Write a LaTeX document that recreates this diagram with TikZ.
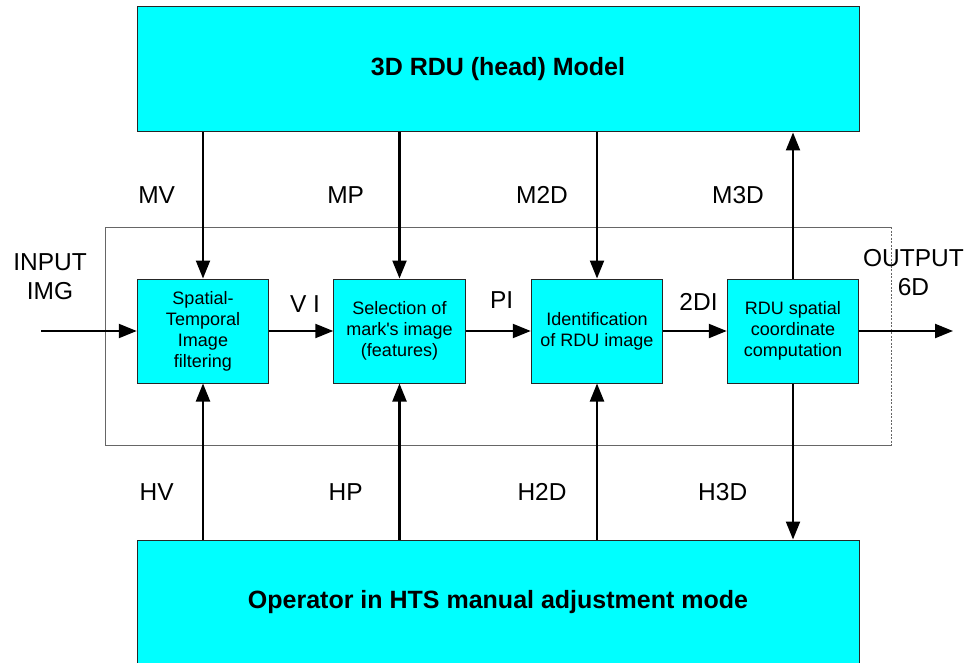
\documentclass[tikz,border=0pt]{standalone}
\usepackage{fontspec}
\setmainfont{Liberation Sans}[Ligatures=TeXOff]
\usetikzlibrary{arrows.meta}
\definecolor{boxcyan}{RGB}{0,255,255}
\begin{document}
\begin{tikzpicture}[x=1pt,y=-1pt,
  bigbox/.style={draw=black!85, line width=1pt, fill=boxcyan, minimum width=722pt, inner sep=0pt, font=\fontsize{25}{30}\selectfont\bfseries},
  procbox/.style={draw=black!85, line width=1pt, fill=boxcyan, minimum width=131.5pt, minimum height=104pt, inner sep=0pt, align=center, font=\fontsize{18}{21}\selectfont},
  lbl/.style={font=\fontsize{24.5}{29}\selectfont, inner sep=0pt, align=center},
  flow/.style={line width=2.2pt, -{Triangle[length=18pt,width=14pt]}},
  framestyle/.style={draw=black!60, line width=1pt}]
\useasboundingbox (0,0) rectangle (968,663);
% frame
\draw[framestyle] (891.7,227) -- (105,227) -- (105,445.7) -- (891.7,445.7);
\draw[framestyle, line width=0.8pt, dash pattern=on 2pt off 1.5pt] (891.7,227) -- (891.7,445.7);
% big boxes
\node[bigbox, minimum height=125pt] (model) at (498,69.5) {3D RDU (head) Model};
\node[bigbox, minimum height=124pt] (oper) at (498,602) {Operator in HTS manual adjustment mode};
% process boxes
\node[procbox] (f1) at (203,331) {Spatial-\\Temporal\\Image\\filtering};
\node[procbox] (f2) at (399.5,331) {Selection of\\mark's image\\(features)};
\node[procbox] (f3) at (597,331) {Identification\\of RDU image};
\node[procbox] (f4) at (793,331) {RDU spatial\\coordinate\\computation};
\coordinate (in) at (41,331);
\coordinate (out) at (953,331);
% horizontal flow
\draw[flow] (in) -- (f1.west);
\draw[flow] (f1) -- (f2);
\draw[flow] (f2) -- (f3);
\draw[flow] (f3) -- (f4);
\draw[flow] (f4.east) -- (out);
% vertical flows
\draw[flow] (model.south -| f1) -- (f1.north);
\draw[flow] (model.south -| f2) -- (f2.north);
\draw[flow] (model.south -| f3) -- (f3.north);
\draw[flow] (f4.north) -- (model.south -| f4);
\draw[flow] (oper.north -| f1) -- (f1.south);
\draw[flow] (oper.north -| f2) -- (f2.south);
\draw[flow] (oper.north -| f3) -- (f3.south);
\draw[flow] (f4.south) -- (oper.north -| f4);
% labels
\node[lbl] (lmv) at (156.7,195) {MV};
\node[lbl] (lmp) at (345.7,195) {MP};
\node[lbl] (lm2d) at (542,195) {M2D};
\node[lbl] (lm3d) at (738,195) {M3D};
\node[lbl] (lhv) at (156.7,492) {HV};
\node[lbl] (lhp) at (345.7,492) {HP};
\node[lbl] (lh2d) at (542,492) {H2D};
\node[lbl] (lh3d) at (722.7,492) {H3D};
\node[lbl] (linput) at (50,277) {INPUT\\IMG};
\node[lbl] (lvi) at (305,304) {V I};
\node[lbl] (lpi) at (501.7,300) {PI};
\node[lbl] (l2di) at (698.5,302) {2DI};
\node[lbl] (loutput) at (913.5,273) {OUTPUT\\6D};
\end{tikzpicture}
\end{document}
